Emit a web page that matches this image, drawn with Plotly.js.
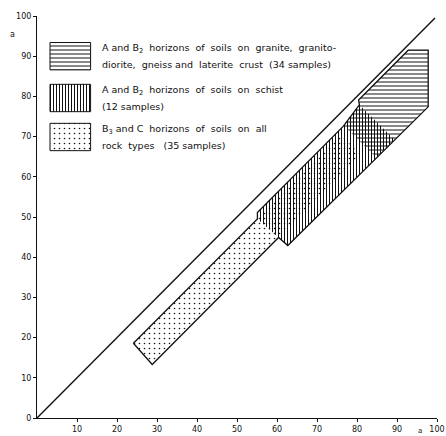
<!DOCTYPE html>
<html><head><meta charset="utf-8">
<script src="https://cdn.plot.ly/plotly-3.0.1.min.js"></script>
<style>html,body{margin:0;padding:0;background:#fff}#chart{width:446px;height:436px}</style>
</head><body><div id="chart"></div>
<script>
// 1:1 reference line
const refLineX = [0, 99.5];
const refLineY = [0, 99.5];

// B3 and C horizons of soils on all rock types (dotted field)
const dotX = [24.1, 76.0, 80.95, 28.8];
const dotY = [18.6, 70.4, 65.45, 13.3];

// A and B2 horizons of soils on schist (vertical hatching)
const schistX = [55.1, 55.1, 76.6, 80.6, 89.4, 62.7];
const schistY = [49.5, 51.1, 72.6, 77.9, 69.2, 42.9];

// A and B2 horizons of soils on granite etc. (horizontal hatching)
const graniteX = [76.6, 80.6, 80.4, 92.8, 97.8, 97.8, 84.8];
const graniteY = [72.8, 77.9, 79.1, 91.5, 91.5, 77.4, 64.8];

// outer outline of the three fields
const outlineX = [24.1, 55.1, 55.1, 76.6, 80.6, 80.4, 92.8, 97.8, 97.8, 62.7, 60.4, 28.8, 24.1];
const outlineY = [18.6, 49.5, 51.1, 72.6, 77.9, 79.1, 91.5, 91.5, 77.4, 42.9, 44.9, 13.3, 18.6];

// ticks
const xTicks = [10, 20, 30, 40, 50, 60, 70, 80, 90, 100];
const xTickText = ['10', '20', '30', '40', '50', '60', '70', '80', '90', '100'];
const yTicks = [0, 10, 20, 30, 40, 50, 60, 70, 80, 90, 100];
const yTickText = ['0', '10', '20', '30', '40', '50', '60', '70', '80', '90', '100'];

// legend
const legendShapes = ['-', '|', '.'];
const legendText = [
  ['A and B<sub>2</sub>  horizons  of  soils  on  granite,  granito-', 'diorite,  gneiss and  laterite  crust  (34 samples)'],
  ['A and B<sub>2</sub>  horizons  of  soils  on  schist', '(12 samples)'],
  ['B<sub>3</sub> and C  horizons  of  soils  on  all', 'rock  types   (35 samples)']
];

const FONT = 'DejaVu Sans, Arial, sans-serif';
const patterns = {
  '-': {shape: '-', size: 4, solidity: 0.25},
  '|': {shape: '|', size: 3, solidity: 0.34},
  '.': {shape: '.', size: 5, solidity: 0.08}
};
function pat(s) {
  const p = patterns[s];
  return {shape: p.shape, size: p.size, solidity: p.solidity, fgcolor: '#111', bgcolor: 'rgba(0,0,0,0)', fillmode: 'replace'};
}
function field(x, y, s) {
  return {type: 'scatter', x: x.concat([x[0]]), y: y.concat([y[0]]), mode: 'none', fill: 'toself',
    fillcolor: 'rgba(0,0,0,0)', fillpattern: pat(s), hoverinfo: 'skip', showlegend: false};
}

const traces = [
  field(dotX, dotY, '.'),
  field(schistX, schistY, '|'),
  field(graniteX, graniteY, '-'),
  {type: 'scatter', x: outlineX, y: outlineY, mode: 'lines', line: {color: '#111', width: 1.3}, showlegend: false, hoverinfo: 'skip'},
  {type: 'scatter', x: refLineX, y: refLineY, mode: 'lines', line: {color: '#111', width: 1.4}, showlegend: false, hoverinfo: 'skip'}
];

// legend boxes (layout geometry, in axis units)
const boxX0 = 3.25, boxX1 = 13.4;
const boxTops = [93.4, 83.0, 73.3];
const boxH = 6.8;
const textX = 15.75;
const lineOffsets = [1.8, -2.0];
const annotations = [];
legendShapes.forEach(function (s, i) {
  const t = boxTops[i], b = t - boxH;
  traces.push({type: 'scatter', x: [boxX0, boxX1, boxX1, boxX0, boxX0], y: [b, b, t, t, b], mode: 'lines',
    fill: 'toself', fillcolor: 'rgba(0,0,0,0)', fillpattern: pat(s), line: {color: '#111', width: 1},
    showlegend: false, hoverinfo: 'skip'});
  const mid = (t + b) / 2;
  legendText[i].forEach(function (txt, j) {
    annotations.push({x: textX, y: mid + lineOffsets[j], xref: 'x', yref: 'y', text: txt, showarrow: false,
      xanchor: 'left', yanchor: 'middle', font: {family: FONT, size: 9.5, color: '#111'}});
  });
});
annotations.push({x: -0.0625, y: 0.955, xref: 'paper', yref: 'paper', text: 'a', showarrow: false,
  xanchor: 'center', yanchor: 'middle', font: {family: FONT, size: 8, color: '#111'}});
annotations.push({x: 0.9575, y: -0.032, xref: 'paper', yref: 'paper', text: 'a', showarrow: false,
  xanchor: 'center', yanchor: 'middle', font: {family: FONT, size: 7, color: '#111'}});

const axisCommon = {
  range: [0, 100], showgrid: false, zeroline: false, showline: true, linecolor: '#111', linewidth: 1,
  ticks: 'outside', ticklen: 3, tickwidth: 1, tickcolor: '#111', fixedrange: true, automargin: false,
  tickfont: {family: FONT, size: 8, color: '#111'}
};
const layout = {
  width: 446, height: 436,
  margin: {l: 37, r: 9, t: 16, b: 18},
  paper_bgcolor: '#fff', plot_bgcolor: '#fff',
  showlegend: false,
  xaxis: Object.assign({}, axisCommon, {tickmode: 'array', tickvals: xTicks, ticktext: xTickText}),
  yaxis: Object.assign({}, axisCommon, {tickmode: 'array', tickvals: yTicks, ticktext: yTickText}),
  annotations: annotations
};
Plotly.newPlot('chart', traces, layout, {staticPlot: true, displayModeBar: false});
</script>
</body></html>
